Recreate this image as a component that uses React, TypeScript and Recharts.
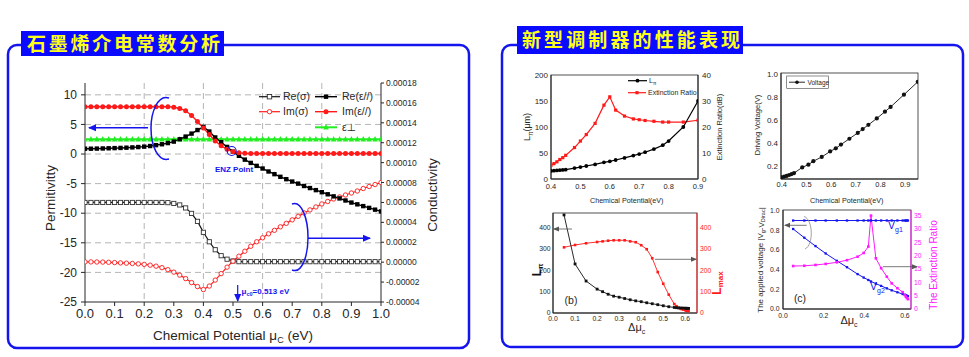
import React from "react";
import { ComposedChart, Line, XAxis, YAxis, CartesianGrid } from "recharts";

const FONT = '"Liberation Sans", Arial, "DejaVu Sans", sans-serif';
const CJK = '"Noto Sans CJK SC", sans-serif';
const INK = "#262626";
const BLUE = "#1414ee";
const RED = "#ff1a1a";
const GREEN = "#22ee22";
const MAGENTA = "#ff19ff";
const GRAY = "#555";

// ---- left panel: graphene permittivity / conductivity vs chemical potential ----
const MU = [
  0, 0.02, 0.04, 0.06, 0.08, 0.1, 0.12, 0.14, 0.16, 0.18, 0.2, 0.22, 0.24, 0.26, 0.28, 0.3, 0.32,
  0.34, 0.36, 0.38, 0.4, 0.42, 0.44, 0.46, 0.48, 0.5, 0.52, 0.54, 0.56, 0.58, 0.6, 0.62, 0.64,
  0.66, 0.68, 0.7, 0.72, 0.74, 0.76, 0.78, 0.8, 0.82, 0.84, 0.86, 0.88, 0.9, 0.92, 0.94, 0.96,
  0.98, 1.0,
];
const RE_EPS = [
  0.9, 0.9, 0.92, 0.94, 0.97, 1.0, 1.03, 1.07, 1.12, 1.18, 1.25, 1.35, 1.5, 1.65, 1.85, 2.1, 2.5,
  2.95, 3.45, 4.05, 4.6, 3.8, 2.8, 2.0, 1.2, 0.4, -0.3, -0.95, -1.5, -2.0, -2.45, -2.95, -3.4,
  -3.85, -4.25, -4.65, -5.0, -5.4, -5.75, -6.1, -6.45, -6.8, -7.15, -7.5, -7.85, -8.2, -8.5, -8.8,
  -9.1, -9.4, -9.7,
];
const IM_EPS = [
  8, 8, 8, 8, 8, 8, 8, 8, 8, 8, 8, 8, 8, 8, 8, 7.9, 7.7, 7.3, 6.5, 5.5, 4.4, 3.3, 2.2, 1.4, 0.8,
  0.4, 0.2, 0.12, 0.1, 0.1, 0.1, 0.1, 0.1, 0.1, 0.1, 0.1, 0.1, 0.1, 0.1, 0.1, 0.1, 0.1, 0.1, 0.1,
  0.1, 0.1, 0.1, 0.1, 0.1, 0.1, 0.1,
];
const EPS_PERP = [
  2.5, 2.5, 2.5, 2.5, 2.5, 2.5, 2.5, 2.5, 2.5, 2.5, 2.5, 2.5, 2.5, 2.5, 2.5, 2.5, 2.5, 2.5, 2.5,
  2.5, 2.5, 2.5, 2.5, 2.5, 2.5, 2.5, 2.5, 2.5, 2.5, 2.5, 2.5, 2.5, 2.5, 2.5, 2.5, 2.5, 2.5, 2.5,
  2.5, 2.5, 2.5, 2.5, 2.5, 2.5, 2.5, 2.5, 2.5, 2.5, 2.5, 2.5, 2.5,
];
// conductivity, in units of 1e-5 S
const RE_SIG = [
  6, 6, 6, 6, 6, 6, 6, 6, 6, 6, 6, 6, 6, 6, 5.98, 5.9, 5.75, 5.45, 4.9, 4.1, 3.0, 2.05, 1.25, 0.65,
  0.3, 0.12, 0.05, 0.05, 0.05, 0.05, 0.05, 0.05, 0.05, 0.05, 0.05, 0.05, 0.05, 0.05, 0.05, 0.05,
  0.05, 0.05, 0.05, 0.05, 0.05, 0.05, 0.05, 0.05, 0.05, 0.05, 0.05,
];
const IM_SIG = [
  0.03, 0.03, 0.02, 0.01, -0.01, -0.04, -0.07, -0.1, -0.13, -0.17, -0.22, -0.3, -0.4, -0.55,
  -0.75, -1.0, -1.3, -1.65, -2.05, -2.45, -2.75, -2.4, -1.8, -1.15, -0.5, 0.1, 0.6, 1.1, 1.6, 2.05,
  2.45, 2.85, 3.2, 3.55, 3.9, 4.25, 4.6, 4.95, 5.25, 5.55, 5.85, 6.1, 6.35, 6.55, 6.75, 6.95, 7.15,
  7.4, 7.6, 7.8, 8.0,
];
const MU_TICKS = [0, 0.1, 0.2, 0.3, 0.4, 0.5, 0.6, 0.7, 0.8, 0.9, 1.0];
const PERM_TICKS = [-25, -20, -15, -10, -5, 0, 5, 10];
const COND_TICKS = [-4, -2, 0, 2, 4, 6, 8, 10, 12, 14, 16, 18];
const GRID_X = [0.2, 0.4, 0.6, 0.8];
const GRID_Y = [-20, -15, -10, -5, 0, 5, 10];

// ---- right panel (a): L_pi and extinction ratio ----
const A_MU = [0.4, 0.41, 0.42, 0.43, 0.44, 0.45, 0.48, 0.5, 0.52, 0.55, 0.58, 0.6, 0.62, 0.65, 0.68, 0.7, 0.72, 0.75, 0.78, 0.8, 0.85, 0.9];
const A_LPI = [15.5, 16, 16.5, 17, 17.5, 18, 21, 23, 25, 28, 32, 34, 36.5, 40.5, 45, 48, 51.5, 57.5, 65, 73, 100, 150];
const A_ER = [5.3, 5.9, 6.6, 7.5, 8.2, 9.1, 12.1, 14.6, 17.1, 21.4, 28.4, 31.6, 26.5, 24.2, 23.1, 22.8, 22.5, 22.2, 21.9, 21.9, 21.9, 22.6];
const A_XTICKS = [0.4, 0.5, 0.6, 0.7, 0.8, 0.9];
const A_LTICKS = [0, 50, 100, 150, 200];
const A_RTICKS = [0, 10, 20, 30, 40];

// ---- right panel: driving voltage ----
const V_MU = [0.4, 0.41, 0.42, 0.43, 0.44, 0.45, 0.483, 0.508, 0.528, 0.562, 0.596, 0.619, 0.64, 0.674, 0.708, 0.728, 0.751, 0.785, 0.818, 0.841, 0.895, 0.951];
const V_VOLT = [0.1, 0.106, 0.112, 0.12, 0.128, 0.137, 0.186, 0.21, 0.24, 0.277, 0.325, 0.352, 0.385, 0.436, 0.487, 0.52, 0.557, 0.613, 0.672, 0.713, 0.82, 0.932];
const V_XTICKS = [0.4, 0.5, 0.6, 0.7, 0.8, 0.9];
const V_YTICKS = [0.1, 0.2, 0.3, 0.4, 0.5, 0.6, 0.7, 0.8, 0.9, 1.0];

// ---- right panel (b): L_pi and L_max vs delta mu ----
const B_DMU = [0.05, 0.1, 0.15, 0.2, 0.225, 0.25, 0.275, 0.3, 0.325, 0.35, 0.375, 0.4, 0.425, 0.45, 0.475, 0.5, 0.525, 0.55, 0.56, 0.57, 0.58, 0.59, 0.6, 0.605, 0.61, 0.615];
const B_LPI = [460, 230, 150, 112, 100, 88, 79, 74, 68, 62, 57, 53, 48, 43.5, 39, 34, 29.5, 26, 25, 24, 23.5, 23, 22.5, 22, 22, 21.5];
const B_LMAX = [308, 319, 327, 333, 336, 339, 341, 341, 341, 336, 332, 318, 299, 257, 192, 137, 86, 42, 32, 24, 19, 16, 13, 11, 10, 9];
const B_XTICKS = [0, 0.1, 0.2, 0.3, 0.4, 0.5, 0.6];
const B_YTICKS = [0, 100, 200, 300, 400];

// ---- right panel (c): gate voltages and extinction ratio ----
const C_DMU = [0.05, 0.105, 0.16, 0.21, 0.265, 0.315, 0.367, 0.397, 0.42, 0.433, 0.457, 0.483, 0.511, 0.535, 0.563, 0.589, 0.6, 0.605, 0.61, 0.615];
const C_VG1 = [0.9, 0.9, 0.9, 0.9, 0.9, 0.9, 0.9, 0.9, 0.9, 0.9, 0.9, 0.9, 0.9, 0.9, 0.9, 0.9, 0.9, 0.9, 0.9, 0.9];
const C_VG2 = [0.814, 0.725, 0.64, 0.565, 0.49, 0.425, 0.355, 0.32, 0.295, 0.28, 0.258, 0.235, 0.21, 0.19, 0.17, 0.152, 0.145, 0.14, 0.135, 0.13];
const C_ER = [16.1, 16.2, 16.5, 16.9, 17.5, 18.3, 19.6, 21, 23.4, 35, 19, 15.3, 12.1, 9.6, 7.8, 6.3, 5.2, 4.6, 4.1, 3.7];
const C_XTICKS = [0, 0.2, 0.4, 0.6];
const C_LTICKS = [0, 0.1, 0.2, 0.3, 0.4, 0.5, 0.6, 0.7, 0.8, 0.9, 1.0];
const C_RTICKS = [0, 5, 10, 15, 20, 25, 30, 35];

const leftRows = MU.map((mu, i) => ({
  mu,
  reEps: RE_EPS[i],
  imEps: IM_EPS[i],
  perp: EPS_PERP[i],
  reSig: RE_SIG[i],
  imSig: IM_SIG[i],
}));
const aRows = A_MU.map((mu, i) => ({ mu, lpi: A_LPI[i], er: A_ER[i] }));
const vRows = V_MU.map((mu, i) => ({ mu, v: V_VOLT[i] }));
const bRows = B_DMU.map((d, i) => ({ d, lpi: B_LPI[i], lmax: B_LMAX[i] }));
const cRows = C_DMU.map((d, i) => ({ d, vg1: C_VG1[i], vg2: C_VG2[i], er: C_ER[i] }));

// plot rectangles on the page
const LP = { x: 85, y: 83, w: 296, h: 219 };
const AP = { x: 551, y: 75, w: 147, h: 104 };
const VP = { x: 781, y: 73, w: 137, h: 106 };
const BP = { x: 553, y: 213, w: 144, h: 100 };
const CP = { x: 783, y: 210, w: 128, h: 99 };

type DotP = { cx?: number; cy?: number; index?: number };
const square = (s: number, fill: string, stroke: string, sw = 0.8) => (p: DotP) =>
  p.cx == null || p.cy == null ? (
    <g key={`q${p.index}`} />
  ) : (
    <rect key={`q${p.index}`} x={p.cx - s / 2} y={p.cy - s / 2} width={s} height={s} fill={fill} stroke={stroke} strokeWidth={sw} />
  );
const circle = (r: number, fill: string, stroke: string, sw = 0.8) => (p: DotP) =>
  p.cx == null || p.cy == null ? (
    <g key={`c${p.index}`} />
  ) : (
    <circle key={`c${p.index}`} cx={p.cx} cy={p.cy} r={r} fill={fill} stroke={stroke} strokeWidth={sw} />
  );
const triangle = (s: number, fill: string) => (p: DotP) =>
  p.cx == null || p.cy == null ? (
    <g key={`t${p.index}`} />
  ) : (
    <polygon key={`t${p.index}`} points={`${p.cx},${p.cy - s * 0.6} ${p.cx - s / 2},${p.cy + s * 0.4} ${p.cx + s / 2},${p.cy + s * 0.4}`} fill={fill} />
  );

const tk = (size: number, fill = INK) => ({ fontSize: size, fill, fontFamily: FONT });
const f1 = (v: number) => v.toFixed(1);

interface Rect { x: number; y: number; w: number; h: number }
function Placed({ rect, l, r, t, b, right, data, children }: {
  rect: Rect; l: number; r: number; t: number; b: number; right: boolean; data: object[]; children: React.ReactNode;
}) {
  return (
    <div style={{ position: "absolute", left: rect.x - l, top: rect.y - t }}>
      <ComposedChart
        width={rect.w + l + r}
        height={rect.h + t + b}
        data={data}
        margin={{ top: t, left: 0, right: right ? 0 : r, bottom: 0 }}
      >
        {children}
      </ComposedChart>
    </div>
  );
}

function GrapheneChart() {
  return (
    <Placed rect={LP} l={60} r={70} t={10} b={30} right data={leftRows}>
      <CartesianGrid yAxisId="l" horizontalValues={GRID_Y} verticalValues={GRID_X} stroke="#b4b4b4" strokeDasharray="6 4" />
      <XAxis type="number" dataKey="mu" domain={[0, 1]} ticks={MU_TICKS} tickFormatter={f1} height={30}
        tick={tk(13)} tickSize={4} tickMargin={3} axisLine={{ stroke: INK }} tickLine={{ stroke: INK }} allowDataOverflow />
      <YAxis yAxisId="l" type="number" width={60} domain={[-25, 12]} ticks={PERM_TICKS} tick={tk(12)}
        tickSize={4} tickMargin={4} axisLine={{ stroke: INK }} tickLine={{ stroke: INK }} allowDataOverflow />
      <YAxis yAxisId="r" orientation="right" type="number" width={70} domain={[-4, 18]} ticks={COND_TICKS}
        tickFormatter={(v: number) => (v * 1e-5).toFixed(5)} tick={tk(8.5)} tickSize={3} tickMargin={2}
        axisLine={{ stroke: INK }} tickLine={{ stroke: INK }} allowDataOverflow />
      <Line yAxisId="l" dataKey="perp" stroke={GREEN} strokeWidth={2} dot={triangle(5.5, GREEN)} activeDot={false} isAnimationActive={false} />
      <Line yAxisId="r" dataKey="reSig" stroke="#111" strokeWidth={1.2} dot={square(4.2, "#fff", "#333", 0.9)} activeDot={false} isAnimationActive={false} />
      <Line yAxisId="r" dataKey="imSig" stroke={RED} strokeWidth={1.2} dot={circle(2.2, "#fff", RED, 0.9)} activeDot={false} isAnimationActive={false} />
      <Line yAxisId="l" dataKey="reEps" stroke="#000" strokeWidth={1.4} dot={square(4.4, "#000", "#000", 0)} activeDot={false} isAnimationActive={false} />
      <Line yAxisId="l" dataKey="imEps" stroke={RED} strokeWidth={1.4} dot={circle(2.5, RED, RED, 0)} activeDot={false} isAnimationActive={false} />
    </Placed>
  );
}

function ModulatorA() {
  return (
    <Placed rect={AP} l={30} r={30} t={5} b={20} right data={aRows}>
      <XAxis type="number" dataKey="mu" domain={[0.4, 0.9]} ticks={A_XTICKS} tickFormatter={f1} height={20}
        tick={tk(7.5)} tickSize={0} tickMargin={5} axisLine={{ stroke: INK }} tickLine={false} allowDataOverflow />
      <YAxis yAxisId="l" type="number" width={30} domain={[0, 200]} ticks={A_LTICKS} tick={tk(8)}
        tickSize={0} tickMargin={3} axisLine={{ stroke: INK }} tickLine={false} allowDataOverflow />
      <YAxis yAxisId="r" orientation="right" type="number" width={30} domain={[0, 40]} ticks={A_RTICKS} tick={tk(8)}
        tickSize={0} tickMargin={4} axisLine={{ stroke: INK }} tickLine={false} allowDataOverflow />
      <Line yAxisId="r" dataKey="er" stroke={RED} strokeWidth={1.2} dot={square(3.2, RED, RED, 0)} activeDot={false} isAnimationActive={false} />
      <Line yAxisId="l" dataKey="lpi" stroke="#000" strokeWidth={1.2} dot={circle(1.9, "#000", "#000", 0)} activeDot={false} isAnimationActive={false} />
    </Placed>
  );
}

function VoltageChart() {
  return (
    <Placed rect={VP} l={30} r={8} t={5} b={20} right={false} data={vRows}>
      <XAxis type="number" dataKey="mu" domain={[0.397, 0.952]} ticks={V_XTICKS} tickFormatter={f1} height={20}
        tick={tk(7.5)} tickSize={0} tickMargin={3} axisLine={{ stroke: INK }} tickLine={false} allowDataOverflow />
      <YAxis type="number" width={30} domain={[0.085, 1.009]} ticks={V_YTICKS} tickFormatter={f1} tick={tk(8)}
        tickSize={0} tickMargin={3} axisLine={{ stroke: INK }} tickLine={false} allowDataOverflow />
      <Line dataKey="v" stroke="#111" strokeWidth={0.9} dot={circle(2.1, "#111", "#111", 0)} activeDot={false} isAnimationActive={false} />
    </Placed>
  );
}

function ModulatorB() {
  return (
    <Placed rect={BP} l={30} r={30} t={5} b={20} right data={bRows}>
      <XAxis type="number" dataKey="d" domain={[0, 0.653]} ticks={B_XTICKS} tickFormatter={f1} height={20}
        tick={tk(6.8)} tickSize={0} tickMargin={3.5} axisLine={{ stroke: INK }} tickLine={false} allowDataOverflow />
      <YAxis yAxisId="l" type="number" width={30} domain={[0, 469]} ticks={B_YTICKS} tick={tk(6.8)}
        tickSize={0} tickMargin={2.5} axisLine={{ stroke: INK }} tickLine={false} allowDataOverflow />
      <YAxis yAxisId="r" orientation="right" type="number" width={30} domain={[0, 469]} ticks={B_YTICKS} tick={tk(6.8, RED)}
        tickSize={0} tickMargin={3} axisLine={{ stroke: RED }} tickLine={false} allowDataOverflow />
      <Line yAxisId="r" dataKey="lmax" stroke={RED} strokeWidth={0.9} dot={square(2.6, RED, RED, 0)} activeDot={false} isAnimationActive={false} />
      <Line yAxisId="l" dataKey="lpi" stroke="#111" strokeWidth={0.9} dot={square(2.8, "#111", "#111", 0)} activeDot={false} isAnimationActive={false} />
    </Placed>
  );
}

function ModulatorC() {
  return (
    <Placed rect={CP} l={30} r={30} t={5} b={20} right data={cRows}>
      <XAxis type="number" dataKey="d" domain={[0, 0.63]} ticks={C_XTICKS} tickFormatter={f1} height={20}
        tick={tk(6.8)} tickSize={0} tickMargin={4} axisLine={{ stroke: INK }} tickLine={false} allowDataOverflow />
      <YAxis yAxisId="l" type="number" width={30} domain={[0, 1.007]} ticks={C_LTICKS} tickFormatter={f1} tick={tk(6.8)}
        tickSize={0} tickMargin={3.5} axisLine={{ stroke: INK }} tickLine={false} allowDataOverflow />
      <YAxis yAxisId="r" orientation="right" type="number" width={30} domain={[0, 37.1]} ticks={C_RTICKS} tick={tk(6.8, MAGENTA)}
        tickSize={0} tickMargin={3} axisLine={{ stroke: MAGENTA }} tickLine={false} allowDataOverflow />
      <Line yAxisId="l" dataKey="vg1" stroke={BLUE} strokeWidth={1} dot={square(2.3, BLUE, BLUE, 0)} activeDot={false} isAnimationActive={false} />
      <Line yAxisId="l" dataKey="vg2" stroke={BLUE} strokeWidth={1} dot={square(2.3, BLUE, BLUE, 0)} activeDot={false} isAnimationActive={false} />
      <Line yAxisId="r" dataKey="er" stroke={MAGENTA} strokeWidth={1} dot={square(2.6, MAGENTA, MAGENTA, 0)} activeDot={false} isAnimationActive={false} />
    </Placed>
  );
}

const rot = (x: number, y: number) => `rotate(-90 ${x} ${y})`;

function Backdrop() {
  return (
    <svg width={969} height={357} style={{ position: "absolute", left: 0, top: 0 }}>
      <rect x={8} y={45} width={461} height={303} rx={9} fill="none" stroke={BLUE} strokeWidth={2.5} />
      <rect x={502} y={45} width={461} height={302} rx={9} fill="none" stroke={BLUE} strokeWidth={2.5} />
      <rect x={21} y={31} width={203} height={25} fill="#0a0aff" />
      <rect x={517} y={26} width={226} height={28} fill="#0a0aff" />
      <text x={27} y={50.5} fontFamily={CJK} fontWeight={700} fontSize={19} fill="#ffff1a" textLength={193} lengthAdjust="spacing">
        石墨烯介电常数分析
      </text>
      <text x={522} y={47} fontFamily={CJK} fontWeight={700} fontSize={19} fill="#ffff1a" textLength={218} lengthAdjust="spacing">
        新型调制器的性能表现
      </text>
      {[AP, VP, BP, CP].map((p, i) => (
        <rect key={i} x={p.x} y={p.y} width={p.w} height={p.h} fill="none" stroke={INK} strokeWidth={0.8} />
      ))}
    </svg>
  );
}

function Overlay() {
  const t = { fontFamily: FONT, fill: INK };
  return (
    <svg width={969} height={357} style={{ position: "absolute", left: 0, top: 0, pointerEvents: "none" }}>
      <defs>
        <marker id="hb" markerWidth={8} markerHeight={8} refX={7} refY={4} orient="auto" markerUnits="userSpaceOnUse">
          <path d="M0,0.5 L8,4 L0,7.5 z" fill={BLUE} />
        </marker>
        <marker id="hg" markerWidth={6} markerHeight={6} refX={5} refY={3} orient="auto" markerUnits="userSpaceOnUse">
          <path d="M0,0.5 L6,3 L0,5.5 z" fill={GRAY} />
        </marker>
      </defs>

      {/* left panel axis titles */}
      <text {...t} x={50} y={198} fontSize={13.5} textAnchor="middle" dominantBaseline="central" transform={rot(50, 198)}>Permitivitty</text>
      <text {...t} x={432} y={195} fontSize={13.5} textAnchor="middle" dominantBaseline="central" transform={rot(432, 195)}>Conductivity</text>
      <text {...t} x={233} y={340} fontSize={13.5} textAnchor="middle">
        Chemical Potential μ<tspan dy={3} fontSize={9}>C</tspan><tspan dy={-3}> (eV)</tspan>
      </text>

      {/* left panel legend */}
      <g fontFamily={FONT} fontSize={10.5} fill={INK}>
        <line x1={259} y1={96.7} x2={280} y2={96.7} stroke="#111" strokeWidth={1.2} />
        <rect x={267.3} y={94.5} width={4.4} height={4.4} fill="#fff" stroke="#333" strokeWidth={0.9} />
        <text x={283} y={100.4}>Re(σ)</text>
        <line x1={315} y1={96.7} x2={337} y2={96.7} stroke="#000" strokeWidth={1.4} />
        <rect x={323.8} y={94.5} width={4.4} height={4.4} fill="#000" />
        <text x={342} y={100.4}>Re(ε//)</text>
        <line x1={259} y1={111.7} x2={280} y2={111.7} stroke={RED} strokeWidth={1.2} />
        <circle cx={269.5} cy={111.7} r={2.2} fill="#fff" stroke={RED} strokeWidth={0.9} />
        <text x={283} y={115.4}>Im(σ)</text>
        <line x1={315} y1={111.7} x2={337} y2={111.7} stroke={RED} strokeWidth={1.4} />
        <circle cx={326} cy={111.7} r={2.5} fill={RED} />
        <text x={342} y={115.4}>Im(ε//)</text>
        <line x1={315} y1={127.3} x2={337} y2={127.3} stroke={GREEN} strokeWidth={2} />
        <polygon points="326,124 323.2,129.5 328.8,129.5" fill={GREEN} />
        <text x={342} y={131}>ε⊥</text>
      </g>

      {/* left panel blue annotations */}
      <g stroke={BLUE} fill="none" strokeWidth={1.5}>
        <path d="M169,98 C158,94 151,112 151,128 C151,146 158,162 169,159" />
        <line x1={148} y1={127.7} x2={89} y2={127.7} markerEnd="url(#hb)" />
        <path d="M292,204 C302,200 308,220 308,237 C308,256 302,274 292,270" />
        <line x1={308} y1={238.3} x2={370} y2={238.3} markerEnd="url(#hb)" />
        <circle cx={231.7} cy={151} r={4.5} strokeWidth={1.2} />
        <line x1={237.7} y1={285} x2={237.7} y2={301} strokeWidth={1.2} markerEnd="url(#hb)" />
      </g>
      <text x={234} y={172} fontFamily={FONT} fontSize={8} fontWeight={700} fill={BLUE} textAnchor="middle">ENZ Point</text>
      <text x={241.5} y={294} fontFamily={FONT} fontSize={8} fontWeight={700} fill={BLUE}>
        μ<tspan dy={2} fontSize={5.5}>c0</tspan><tspan dy={-2}>=0.513 eV</tspan>
      </text>

      {/* (a) L_pi / extinction ratio */}
      <text {...t} x={527} y={127} fontSize={9} textAnchor="middle" dominantBaseline="central" transform={rot(527, 127)}>
        L<tspan dy={2.5} fontSize={6.5}>π</tspan><tspan dy={-2.5}>(μm)</tspan>
      </text>
      <text {...t} x={719} y={127} fontSize={7.5} textAnchor="middle" dominantBaseline="central" transform={rot(719, 127)}>Extinction Ratio(dB)</text>
      <text {...t} x={626.7} y={202.5} fontSize={7.2} textAnchor="middle">Chemical Potential(eV)</text>
      <line x1={628} y1={80.7} x2={647} y2={80.7} stroke="#000" strokeWidth={1.2} />
      <circle cx={637.5} cy={80.7} r={1.9} fill="#000" />
      <text {...t} x={649} y={83.3} fontSize={7}>L<tspan dy={2} fontSize={5}>π</tspan></text>
      <line x1={628} y1={92.7} x2={646} y2={92.7} stroke={RED} strokeWidth={1.2} />
      <rect x={635.4} y={91.1} width={3.2} height={3.2} fill={RED} />
      <text {...t} x={648} y={95.3} fontSize={7}>Extinction Ratio</text>

      {/* driving voltage */}
      <text {...t} x={757} y={125} fontSize={7.5} textAnchor="middle" dominantBaseline="central" transform={rot(757, 125)}>Driving Voltage(V)</text>
      <text {...t} x={846.7} y={202.5} fontSize={7.2} textAnchor="middle">Chemical Potential(eV)</text>
      <rect x={786.7} y={76} width={41.6} height={12.3} fill="#fff" stroke="#444" strokeWidth={0.6} />
      <line x1={789} y1={82.2} x2={805} y2={82.2} stroke="#111" strokeWidth={0.9} />
      <circle cx={797} cy={82.2} r={1.8} fill="#111" />
      <text {...t} x={807.5} y={84.6} fontSize={6.5}>Voltage</text>

      {/* (b) */}
      <text x={537} y={270} fontFamily={FONT} fontSize={12} fontWeight={700} fill="#111" textAnchor="middle" dominantBaseline="central" transform={rot(537, 270)}>
        L<tspan dy={3} fontSize={7}>π</tspan>
      </text>
      <text x={716.7} y={283} fontFamily={FONT} fontSize={12} fontWeight={700} fill={RED} textAnchor="middle" dominantBaseline="central" transform={rot(716.7, 283)}>
        L<tspan dy={3} fontSize={8}>max</tspan>
      </text>
      <text {...t} x={636.7} y={331} fontSize={11} textAnchor="middle">Δμ<tspan dy={2.5} fontSize={7}>c</tspan></text>
      <text {...t} x={571} y={304} fontSize={10.5} textAnchor="middle">(b)</text>
      <g stroke={GRAY} strokeWidth={0.8}>
        <line x1={572} y1={229} x2={554} y2={229} markerEnd="url(#hg)" />
        <line x1={655} y1={259.3} x2={696} y2={259.3} markerEnd="url(#hg)" />
      </g>

      {/* (c) */}
      <text {...t} x={760.7} y={260} fontSize={8} textAnchor="middle" dominantBaseline="central" transform={rot(760.7, 260)}>
        The applied voltage |V<tspan dy={2} fontSize={5.5}>g</tspan><tspan dy={-2}>-V</tspan><tspan dy={2} fontSize={5.5}>Dirac</tspan><tspan dy={-2}>|</tspan>
      </text>
      <text x={933} y={265} fontFamily={FONT} fontSize={10} fill={MAGENTA} textAnchor="middle" dominantBaseline="central" transform={rot(933, 265)}>The Extinction Ratio</text>
      <text {...t} x={849} y={324} fontSize={11} textAnchor="middle">Δμ<tspan dy={2.5} fontSize={7}>c</tspan></text>
      <text {...t} x={800} y={301.5} fontSize={10.5} textAnchor="middle">(c)</text>
      <text x={888} y={229} fontFamily={FONT} fontSize={10.5} fill={BLUE}>V<tspan dy={2.5} fontSize={7}>g1</tspan></text>
      <text x={870} y={290} fontFamily={FONT} fontSize={10.5} fill={BLUE}>V<tspan dy={2.5} fontSize={7}>g2</tspan></text>
      <g stroke={GRAY} strokeWidth={0.8} fill="none">
        <path d="M804,216.5 C813,219 814,245 805,249" stroke="#888" />
        <line x1={806.7} y1={225.3} x2={785} y2={225.3} markerEnd="url(#hg)" />
        <line x1={883} y1={266.7} x2={917} y2={266.7} markerEnd="url(#hg)" />
      </g>
    </svg>
  );
}

export default function App() {
  return (
    <div style={{ position: "absolute", left: 0, top: 0, width: 969, height: 357, background: "#fff", overflow: "hidden" }}>
      <Backdrop />
      <GrapheneChart />
      <ModulatorA />
      <VoltageChart />
      <ModulatorB />
      <ModulatorC />
      <Overlay />
    </div>
  );
}
